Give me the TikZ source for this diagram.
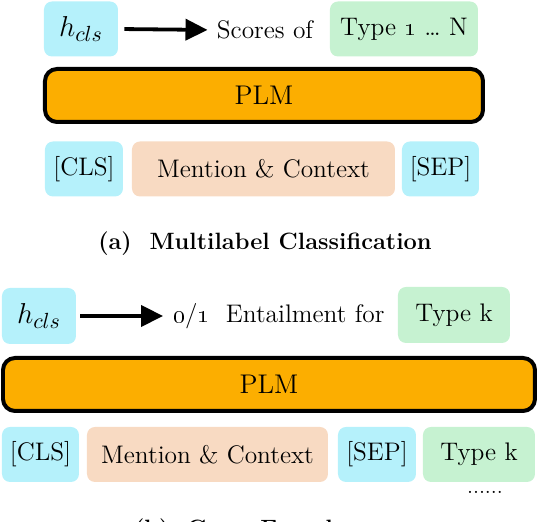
\documentclass[tikz,border=0pt]{standalone}
\usepackage{tikz}
\usetikzlibrary{arrows.meta}
\definecolor{ctok}{HTML}{B5F1FB}
\definecolor{ctype}{HTML}{C6F2D1}
\definecolor{cctx}{HTML}{F8DAC2}
\definecolor{cplm}{HTML}{FCAE00}
\tikzset{
  tok/.style={fill=#1, rounded corners=4pt, inner sep=0pt, minimum height=27.5pt,
              font=\fontsize{12.7}{15}\selectfont},
  hbox/.style={tok=ctok, minimum width=37pt, minimum height=27.5pt, font=\fontsize{15.5}{18}\selectfont},
  plm/.style={draw=black, fill=cplm, line width=2pt, rounded corners=6pt, inner sep=0pt,
              minimum height=26.5pt, font=\fontsize{13.5}{15}\selectfont},
  txt/.style={inner sep=1pt, font=\fontsize{12.7}{15}\selectfont},
  bigflow/.style={-{Triangle[length=11pt,width=10.5pt]}, line width=1.9pt, black},
  subcap/.style={font=\bfseries\fontsize{11.8}{14}\selectfont},
  dotrow/.style={font=\fontsize{11}{12}\selectfont, inner sep=0pt},
}

\begin{document}
\begin{tikzpicture}[x=0.5pt, y=-0.5pt]
\useasboundingbox (0,0) rectangle (538,522);
\clip (0,0) rectangle (538,522);

% (a) multilabel classification
\node[hbox] (hclsA) at (81,29) {$h_{cls}$};
\node[txt] (scoresA) at (265,30) {Scores of};
\node[tok=ctype, minimum width=74pt] (typeA) at (404,29) {Type \oldstylenums{1} \dots\ N};
\draw[bigflow, shorten <=3pt, shorten >=3.5pt] (hclsA.east) -- (scoresA.west);
\node[plm, minimum width=219pt] (plmA) at (264,95.5) {PLM};
\node[tok=ctok, minimum width=39pt] (clsA) at (84,169) {[CLS]};
\node[tok=cctx, minimum width=131.5pt] (ctxA) at (263.5,169) {Mention \& Context};
\node[tok=ctok, minimum width=38.5pt] (sepA) at (440.5,169) {[SEP]};
\node[subcap] (capA) at (265,244) {(a)~~Multilabel Classification};

% (b) cross encoder
\node[hbox, minimum height=28pt] (hclsB) at (39,316) {$h_{cls}$};
\node[txt] (entB) at (279,316) {\oldstylenums{0}/\oldstylenums{1}~~Entailment for};
\node[tok=ctype, minimum width=56pt, minimum height=28pt] (typeB) at (454,315) {Type k};
\draw[bigflow, shorten <=2pt, shorten >=4pt] (hclsB.east) -- (entB.west);
\node[plm, minimum width=266pt] (plmB) at (269,384.5) {PLM};
\node[tok=ctok, minimum width=38.5pt] (clsB) at (40.5,454.5) {[CLS]};
\node[tok=cctx, minimum width=120.5pt] (ctxB) at (207.5,454.5) {Mention \& Context};
\node[tok=ctok, minimum width=39pt] (sepB) at (377,454.5) {[SEP]};
\node[tok=ctype, minimum width=56pt] (typeC) at (479,454.5) {Type k};
\node[dotrow] (dotsB) at (485,492) {......};
\node[subcap] (capB) at (245,531) {(b)~~Cross Encoder};
\end{tikzpicture}
\end{document}
